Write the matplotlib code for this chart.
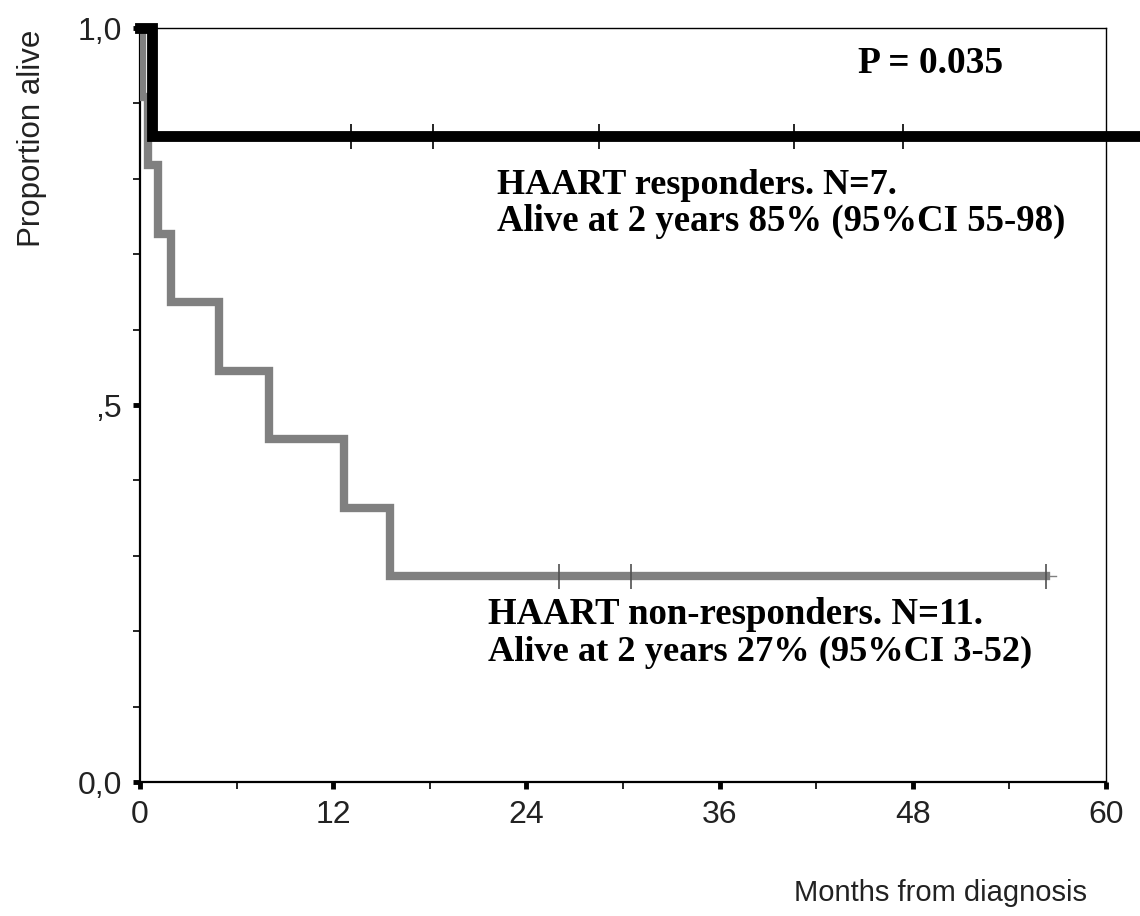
import matplotlib
matplotlib.use("Agg")
import matplotlib.pyplot as plt
from matplotlib.ticker import MultipleLocator

# Kaplan-Meier steps (months, proportion alive)
resp_times = [0, 0.75, 63.5]
resp_surv = [1.0, 0.857, 0.857]
resp_cens = [13.1, 18.2, 28.5, 40.6, 47.4, 62.2]

nonresp_times = [0, 0.15, 0.5, 1.1, 1.9, 4.9, 8.0, 12.7, 15.5, 56.3]
nonresp_surv = [1.0, 0.909, 0.818, 0.727, 0.636, 0.545, 0.455, 0.364, 0.273, 0.273]
nonresp_cens = [26.0, 30.5, 56.3]

x_ticks = [0, 12, 24, 36, 48, 60]
y_ticks = [0.0, 0.5, 1.0]
y_ticklabels = ["0,0", ",5", "1,0"]

fig = plt.figure(figsize=(11.4, 9.16), dpi=100)
ax = fig.add_axes([140 / 1140, 1 - 782 / 916, 966 / 1140, 754 / 916])

# non-responders (grey)
ax.step(nonresp_times, nonresp_surv, where="post", color="#808080", lw=6, solid_joinstyle="miter", zorder=3)
ax.plot([56.3, 56.9], [0.273, 0.273], color="#808080", lw=1, zorder=3)
ax.plot(nonresp_cens, [0.273] * len(nonresp_cens), ls="none", marker="|", ms=18, mew=1.2,
        color="#505050", zorder=4)

# responders (black), runs past the right edge
ax.step(resp_times, resp_surv, where="post", color="black", lw=7.8, solid_joinstyle="miter",
        clip_on=False, zorder=5)
ax.plot(resp_cens, [0.857] * len(resp_cens), ls="none", marker="|", ms=18, mew=1.2,
        color="black", clip_on=False, zorder=6)

ax.set_xlim(0, 60)
ax.set_ylim(0, 1)
ax.set_xticks(x_ticks)
ax.set_yticks(y_ticks)
ax.set_yticklabels(y_ticklabels)
ax.xaxis.set_minor_locator(MultipleLocator(6))
ax.yaxis.set_minor_locator(MultipleLocator(0.1))
ax.tick_params(which="major", direction="out", length=5, width=3.5, pad=8,
               labelsize=23, labelcolor="#222222")
ax.tick_params(which="minor", direction="out", length=5, width=1.2)
for lab in ax.get_xticklabels() + ax.get_yticklabels():
    lab.set_fontfamily("Liberation Sans")

ax.spines["left"].set_linewidth(1.6)
ax.spines["bottom"].set_linewidth(1.6)
ax.spines["top"].set_linewidth(1.0)
ax.spines["right"].set_linewidth(1.0)

serif = dict(family="Liberation Serif", weight="bold", color="black")
ax.text(44.6, 0.940, "P = 0.035", fontsize=27, **serif)
ax.text(22.2, 0.780, "HAART responders. N=7.", fontsize=26, **serif)
ax.text(22.2, 0.731, "Alive at 2 years 85% (95%CI 55-98)", fontsize=26.5, **serif)
ax.text(21.6, 0.209, "HAART non-responders. N=11.", fontsize=26.5, **serif)
ax.text(21.6, 0.160, "Alive at 2 years 27% (95%CI 3-52)", fontsize=26.2, **serif)

fig.text(32 / 1140, 1 - 30 / 916, "Proportion alive", rotation=90, ha="center", va="top",
         fontsize=22.5, family="Liberation Sans", color="#222222")
fig.text(940 / 1140, 1 - 893 / 916, "Months from diagnosis", ha="center", va="center",
         fontsize=21, family="Liberation Sans", color="#222222")

fig.savefig("out.png", dpi=100)
